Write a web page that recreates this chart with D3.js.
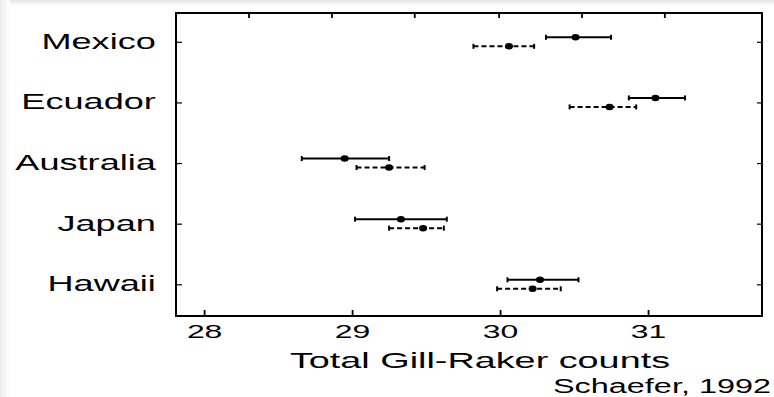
<!DOCTYPE html>
<html>
<head>
<meta charset="utf-8">
<script src="https://cdn.jsdelivr.net/npm/d3@7"></script>
<style>
  html, body { margin: 0; padding: 0; background: #fff; }
  svg { display: block; }
  text { font-family: "Liberation Sans", Arial, sans-serif; fill: #000; }
</style>
</head>
<body>
<div id="chart"></div>
<script>
// gill-raker counts by region, two samples per region (solid / dashed)
const countries = ['Mexico', 'Ecuador', 'Australia', 'Japan', 'Hawaii'];

const solidMean = [30.51, 31.05, 28.95, 29.33, 30.27];
const solidLow  = [30.31, 30.87, 28.66, 29.02, 30.05];
const solidHigh = [30.75, 31.25, 29.25, 29.64, 30.53];

const dashMean = [30.06, 30.74, 29.25, 29.48, 30.22];
const dashLow  = [29.82, 30.47, 29.03, 29.25, 29.98];
const dashHigh = [30.23, 30.92, 29.49, 29.62, 30.41];

const xTicks = [28, 29, 30, 31];
const topTicks = [28.3, 28.86, 29.42, 29.99, 30.55, 31.11];

const xTitle = 'Total Gill-Raker counts';
const source = 'Schaefer, 1992';

function drawChart() {
  const width = 774, height = 397;
  const stretch = 1.68; // the picture is wide, text looks stretched

  const svg = d3.select('#chart').append('svg')
    .attr('width', width)
    .attr('height', height);

  // faint shadow on top/left edge
  const defs = svg.append('defs');
  const gTop = defs.append('linearGradient').attr('id', 'shTop')
    .attr('x1', 0).attr('y1', 0).attr('x2', 0).attr('y2', 1);
  gTop.append('stop').attr('offset', '0%').attr('stop-color', '#e6e6e6');
  gTop.append('stop').attr('offset', '100%').attr('stop-color', '#fff');
  const gLeft = defs.append('linearGradient').attr('id', 'shLeft')
    .attr('x1', 0).attr('y1', 0).attr('x2', 1).attr('y2', 0);
  gLeft.append('stop').attr('offset', '0%').attr('stop-color', '#ececec');
  gLeft.append('stop').attr('offset', '100%').attr('stop-color', '#fff');
  svg.append('rect').attr('x', 0).attr('y', 0).attr('width', width).attr('height', 6).attr('fill', 'url(#shTop)');
  svg.append('rect').attr('x', 0).attr('y', 0).attr('width', 10).attr('height', height).attr('fill', 'url(#shLeft)');

  const left = 176, right = 762, top = 13, bottom = 316;

  const x = d3.scaleLinear().domain([27.81, 31.77]).range([left, right]);
  const y = d3.scalePoint().domain(countries).range([41.8, 284.3]);
  const noLabel = () => '';

  // frame
  svg.append('rect')
    .attr('x', left).attr('y', top)
    .attr('width', right - left).attr('height', bottom - top)
    .attr('fill', 'none').attr('stroke', '#000').attr('stroke-width', 2);

  // bottom axis, ticks pointing in
  const xAxis = svg.append('g')
    .attr('transform', `translate(0,${bottom})`)
    .call(d3.axisBottom(x).tickValues(xTicks).tickFormat(d3.format('d'))
      .tickSizeInner(-6).tickSizeOuter(0).tickPadding(9));
  xAxis.select('.domain').remove();
  xAxis.selectAll('line').attr('stroke', '#000').attr('stroke-width', 1.8);
  xAxis.selectAll('text')
    .attr('font-size', '19px')
    .attr('transform', `scale(${stretch},1)`);

  // top ticks (no labels)
  const tAxis = svg.append('g')
    .attr('transform', `translate(0,${top})`)
    .call(d3.axisTop(x).tickValues(topTicks).tickFormat(noLabel).tickSizeInner(-5).tickSizeOuter(0));
  tAxis.select('.domain').remove();
  tAxis.selectAll('line').attr('stroke', '#000').attr('stroke-width', 1.8);

  // left axis with country names
  const yAxis = svg.append('g')
    .attr('transform', `translate(${left},0)`)
    .call(d3.axisLeft(y).tickSizeInner(-6).tickSizeOuter(0).tickPadding(12));
  yAxis.select('.domain').remove();
  yAxis.selectAll('line').attr('stroke', '#000').attr('stroke-width', 1.2);
  yAxis.selectAll('text')
    .attr('font-size', '21.5px')
    .attr('dy', '0.3em')
    .attr('transform', `scale(${stretch},1)`);

  // right ticks
  const rAxis = svg.append('g')
    .attr('transform', `translate(${right},0)`)
    .call(d3.axisRight(y).tickFormat(noLabel).tickSizeInner(-5).tickSizeOuter(0));
  rAxis.select('.domain').remove();
  rAxis.selectAll('line').attr('stroke', '#000').attr('stroke-width', 1.2);

  // error bars
  const series = [
    { mean: solidMean, low: solidLow, high: solidHigh, off: -4.5, dash: null },
    { mean: dashMean, low: dashLow, high: dashHigh, off: 4.5, dash: '5,3' }
  ];

  series.forEach(s => {
    const rows = countries.map((c, i) => ({ c, m: s.mean[i], lo: s.low[i], hi: s.high[i] }));
    const g = svg.append('g');

    g.selectAll('.bar').data(rows).enter().append('line')
      .attr('x1', d => x(d.lo)).attr('x2', d => x(d.hi))
      .attr('y1', d => y(d.c) + s.off).attr('y2', d => y(d.c) + s.off)
      .attr('stroke', '#000').attr('stroke-width', 2)
      .attr('stroke-dasharray', s.dash);

    ['lo', 'hi'].forEach(k => {
      g.selectAll('.cap-' + k).data(rows).enter().append('line')
        .attr('x1', d => x(d[k])).attr('x2', d => x(d[k]))
        .attr('y1', d => y(d.c) + s.off - 2.5).attr('y2', d => y(d.c) + s.off + 2.5)
        .attr('stroke', '#000').attr('stroke-width', 2);
    });

    g.selectAll('.dot').data(rows).enter().append('ellipse')
      .attr('cx', d => x(d.m)).attr('cy', d => y(d.c) + s.off)
      .attr('rx', 4).attr('ry', 3.2)
      .attr('fill', '#000');
  });

  // axis title and source
  svg.append('text')
    .attr('transform', `translate(480,368) scale(${stretch},1)`)
    .attr('text-anchor', 'middle')
    .attr('font-size', '22.5px')
    .text(xTitle);

  svg.append('text')
    .attr('transform', `translate(771,393) scale(${stretch},1)`)
    .attr('text-anchor', 'end')
    .attr('font-size', '19.3px')
    .text(source);
}

drawChart();
</script>
</body>
</html>
